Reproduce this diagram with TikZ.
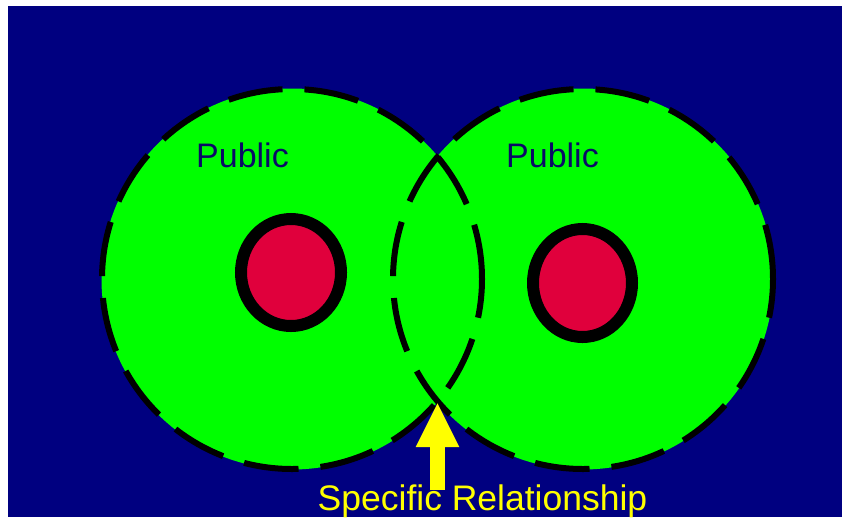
\documentclass[tikz,border=0pt]{standalone}
\usepackage{fontspec}
\setmainfont{Liberation Sans}
\usetikzlibrary{arrows.meta,shapes.geometric}
\definecolor{navybg}{HTML}{000080}
\definecolor{zonegreen}{HTML}{00FF00}
\definecolor{corered}{HTML}{E0003C}
\definecolor{labelnavy}{HTML}{0A0A66}
\definecolor{callout}{HTML}{FFFF00}

\begin{document}
\begin{tikzpicture}[
  x=1pt, y=-1pt,
  zone/.style={circle, fill=zonegreen, minimum size=381pt, inner sep=0pt},
  rim/.style={draw=black, line width=6pt, dash pattern=on 55pt off 22pt},
  core/.style={ellipse, draw=black, fill=corered, line width=12pt, inner sep=0pt},
  pub/.style={anchor=base, text=labelnavy, font=\fontsize{34}{40}\selectfont},
]
\useasboundingbox (0,0) rectangle (842,517);
\fill[white] (0,0) rectangle (842,517);
\fill[navybg] (8,6) rectangle (842,517);

% the two public zones
\node[zone] (zoneL) at (292,279) {};
\node[zone] (zoneR) at (583,279) {};
\draw[rim] (zoneL.center) circle[radius=190pt];
\draw[rim] (zoneR.center) circle[radius=190pt];

% private cores
\node[core, minimum width=100pt, minimum height=107pt] (coreL) at (291,272.5) {};
\node[core, minimum width=99pt, minimum height=108pt] (coreR) at (582.5,283) {};

\node[pub] (pubL) at (242.5,167) {Public};
\node[pub] (pubR) at (552.5,167) {Public};

% shared area
\coordinate (meet) at (437.5,402);
\coordinate (foot) at (437.5,490);
\draw[callout, line width=15pt, -{Triangle[width=40pt,length=45pt]}] (foot) -- (meet);
\node[anchor=base, text=callout, font=\fontsize{35.5}{40}\selectfont] (rel) at (482.5,510)
  {Specific Relationship};
\end{tikzpicture}
\end{document}
